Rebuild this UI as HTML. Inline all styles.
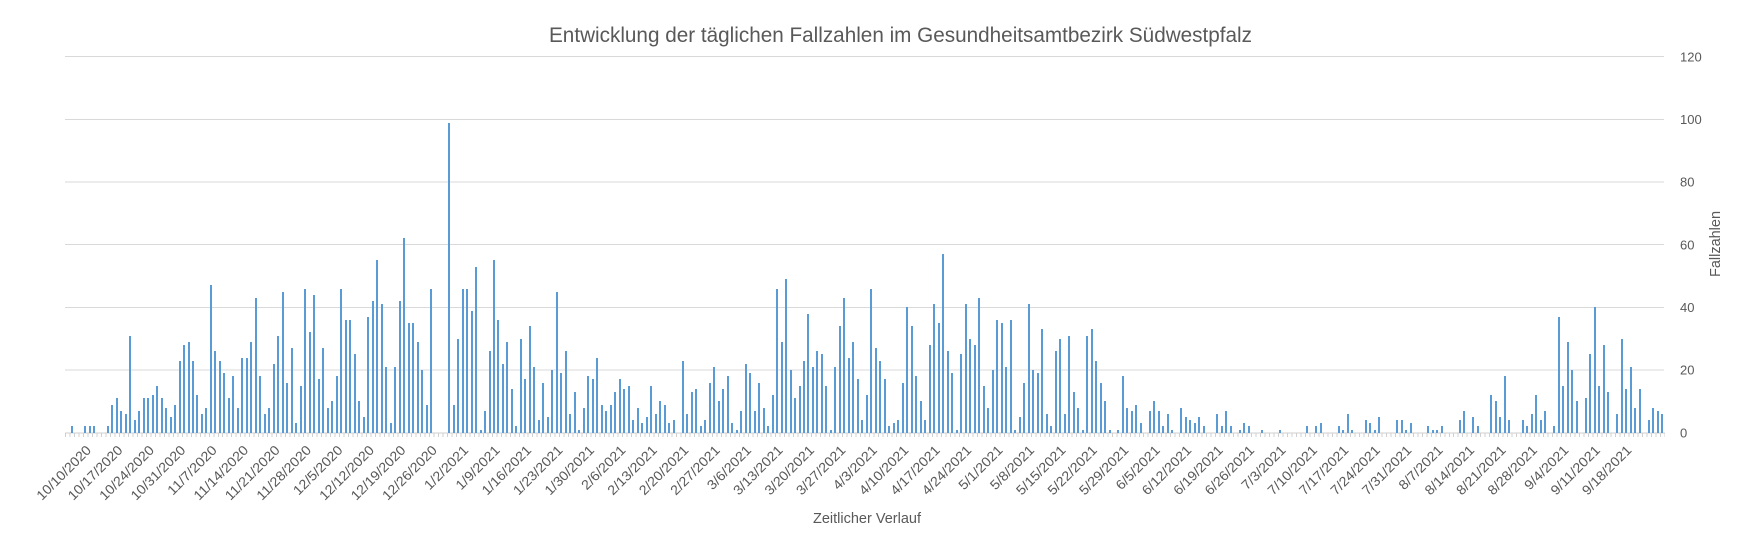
<!DOCTYPE html>
<html>
<head>
<meta charset="utf-8">
<style>
html,body{margin:0;padding:0;background:#fff;}
body{width:1738px;height:544px;overflow:hidden;position:relative;font-family:"Liberation Sans",sans-serif;}
svg{position:absolute;left:0;top:0;}
#b i{position:absolute;bottom:111.3px;width:2px;background:#5B9BD5;left:calc(70.69px + var(--k)*4.4927px);height:calc(var(--v)*3.1333px);display:block;}
#ticks{position:absolute;left:65px;top:433px;width:1600px;height:4px;background:repeating-linear-gradient(90deg,#d0d0d0 0 1px,transparent 1px 4.4927px);}
</style>
</head>
<body>
<svg width="1738" height="544" xmlns="http://www.w3.org/2000/svg">
<g stroke="#d9d9d9" stroke-width="1" shape-rendering="crispEdges">
<line x1="65" x2="1664" y1="56.7" y2="56.7"/>
<line x1="65" x2="1664" y1="119.4" y2="119.4"/>
<line x1="65" x2="1664" y1="182" y2="182"/>
<line x1="65" x2="1664" y1="244.7" y2="244.7"/>
<line x1="65" x2="1664" y1="307.4" y2="307.4"/>
<line x1="65" x2="1664" y1="370" y2="370"/>
<line x1="65" x2="1665" y1="432.8" y2="432.8" stroke="#cfcfcf"/>
</g>
<g fill="#595959" font-family="Liberation Sans, sans-serif">
<text x="549" y="42" font-size="21" textLength="703" lengthAdjust="spacingAndGlyphs">Entwicklung der täglichen Fallzahlen im Gesundheitsamtbezirk Südwestpfalz</text>
<g font-size="13">
<text x="1680" y="61.4">120</text>
<text x="1680" y="124.1">100</text>
<text x="1680" y="186.7">80</text>
<text x="1680" y="249.4">60</text>
<text x="1680" y="312.1">40</text>
<text x="1680" y="374.7">20</text>
<text x="1680" y="437.4">0</text>
</g>
<text transform="translate(1720,244) rotate(-90)" text-anchor="middle" font-size="15" textLength="66" lengthAdjust="spacingAndGlyphs">Fallzahlen</text>
<text x="867" y="523" text-anchor="middle" font-size="15" textLength="108" lengthAdjust="spacingAndGlyphs">Zeitlicher Verlauf</text>
<g font-size="13.5" text-anchor="end" lengthAdjust="spacingAndGlyphs">
<text transform="translate(92.0,451) rotate(-45)" textLength="70.8" lengthAdjust="spacingAndGlyphs">10/10/2020</text>
<text transform="translate(123.4,451) rotate(-45)" textLength="70.8" lengthAdjust="spacingAndGlyphs">10/17/2020</text>
<text transform="translate(154.9,451) rotate(-45)" textLength="70.8" lengthAdjust="spacingAndGlyphs">10/24/2020</text>
<text transform="translate(186.3,451) rotate(-45)" textLength="70.8" lengthAdjust="spacingAndGlyphs">10/31/2020</text>
<text transform="translate(217.7,451) rotate(-45)" textLength="63.4" lengthAdjust="spacingAndGlyphs">11/7/2020</text>
<text transform="translate(249.2,451) rotate(-45)" textLength="70.8" lengthAdjust="spacingAndGlyphs">11/14/2020</text>
<text transform="translate(280.6,451) rotate(-45)" textLength="70.8" lengthAdjust="spacingAndGlyphs">11/21/2020</text>
<text transform="translate(312.0,451) rotate(-45)" textLength="70.8" lengthAdjust="spacingAndGlyphs">11/28/2020</text>
<text transform="translate(343.5,451) rotate(-45)" textLength="63.4" lengthAdjust="spacingAndGlyphs">12/5/2020</text>
<text transform="translate(374.9,451) rotate(-45)" textLength="70.8" lengthAdjust="spacingAndGlyphs">12/12/2020</text>
<text transform="translate(406.4,451) rotate(-45)" textLength="70.8" lengthAdjust="spacingAndGlyphs">12/19/2020</text>
<text transform="translate(437.8,451) rotate(-45)" textLength="70.8" lengthAdjust="spacingAndGlyphs">12/26/2020</text>
<text transform="translate(469.2,451) rotate(-45)" textLength="56" lengthAdjust="spacingAndGlyphs">1/2/2021</text>
<text transform="translate(500.7,451) rotate(-45)" textLength="56" lengthAdjust="spacingAndGlyphs">1/9/2021</text>
<text transform="translate(532.1,451) rotate(-45)" textLength="63.4" lengthAdjust="spacingAndGlyphs">1/16/2021</text>
<text transform="translate(563.5,451) rotate(-45)" textLength="63.4" lengthAdjust="spacingAndGlyphs">1/23/2021</text>
<text transform="translate(595.0,451) rotate(-45)" textLength="63.4" lengthAdjust="spacingAndGlyphs">1/30/2021</text>
<text transform="translate(626.4,451) rotate(-45)" textLength="56" lengthAdjust="spacingAndGlyphs">2/6/2021</text>
<text transform="translate(657.8,451) rotate(-45)" textLength="63.4" lengthAdjust="spacingAndGlyphs">2/13/2021</text>
<text transform="translate(689.3,451) rotate(-45)" textLength="63.4" lengthAdjust="spacingAndGlyphs">2/20/2021</text>
<text transform="translate(720.7,451) rotate(-45)" textLength="63.4" lengthAdjust="spacingAndGlyphs">2/27/2021</text>
<text transform="translate(752.1,451) rotate(-45)" textLength="56" lengthAdjust="spacingAndGlyphs">3/6/2021</text>
<text transform="translate(783.6,451) rotate(-45)" textLength="63.4" lengthAdjust="spacingAndGlyphs">3/13/2021</text>
<text transform="translate(815.0,451) rotate(-45)" textLength="63.4" lengthAdjust="spacingAndGlyphs">3/20/2021</text>
<text transform="translate(846.4,451) rotate(-45)" textLength="63.4" lengthAdjust="spacingAndGlyphs">3/27/2021</text>
<text transform="translate(877.9,451) rotate(-45)" textLength="56" lengthAdjust="spacingAndGlyphs">4/3/2021</text>
<text transform="translate(909.3,451) rotate(-45)" textLength="63.4" lengthAdjust="spacingAndGlyphs">4/10/2021</text>
<text transform="translate(940.7,451) rotate(-45)" textLength="63.4" lengthAdjust="spacingAndGlyphs">4/17/2021</text>
<text transform="translate(972.2,451) rotate(-45)" textLength="63.4" lengthAdjust="spacingAndGlyphs">4/24/2021</text>
<text transform="translate(1003.6,451) rotate(-45)" textLength="56" lengthAdjust="spacingAndGlyphs">5/1/2021</text>
<text transform="translate(1035.1,451) rotate(-45)" textLength="56" lengthAdjust="spacingAndGlyphs">5/8/2021</text>
<text transform="translate(1066.5,451) rotate(-45)" textLength="63.4" lengthAdjust="spacingAndGlyphs">5/15/2021</text>
<text transform="translate(1097.9,451) rotate(-45)" textLength="63.4" lengthAdjust="spacingAndGlyphs">5/22/2021</text>
<text transform="translate(1129.4,451) rotate(-45)" textLength="63.4" lengthAdjust="spacingAndGlyphs">5/29/2021</text>
<text transform="translate(1160.8,451) rotate(-45)" textLength="56" lengthAdjust="spacingAndGlyphs">6/5/2021</text>
<text transform="translate(1192.2,451) rotate(-45)" textLength="63.4" lengthAdjust="spacingAndGlyphs">6/12/2021</text>
<text transform="translate(1223.7,451) rotate(-45)" textLength="63.4" lengthAdjust="spacingAndGlyphs">6/19/2021</text>
<text transform="translate(1255.1,451) rotate(-45)" textLength="63.4" lengthAdjust="spacingAndGlyphs">6/26/2021</text>
<text transform="translate(1286.5,451) rotate(-45)" textLength="56" lengthAdjust="spacingAndGlyphs">7/3/2021</text>
<text transform="translate(1318.0,451) rotate(-45)" textLength="63.4" lengthAdjust="spacingAndGlyphs">7/10/2021</text>
<text transform="translate(1349.4,451) rotate(-45)" textLength="63.4" lengthAdjust="spacingAndGlyphs">7/17/2021</text>
<text transform="translate(1380.8,451) rotate(-45)" textLength="63.4" lengthAdjust="spacingAndGlyphs">7/24/2021</text>
<text transform="translate(1412.3,451) rotate(-45)" textLength="63.4" lengthAdjust="spacingAndGlyphs">7/31/2021</text>
<text transform="translate(1443.7,451) rotate(-45)" textLength="56" lengthAdjust="spacingAndGlyphs">8/7/2021</text>
<text transform="translate(1475.1,451) rotate(-45)" textLength="63.4" lengthAdjust="spacingAndGlyphs">8/14/2021</text>
<text transform="translate(1506.6,451) rotate(-45)" textLength="63.4" lengthAdjust="spacingAndGlyphs">8/21/2021</text>
<text transform="translate(1538.0,451) rotate(-45)" textLength="63.4" lengthAdjust="spacingAndGlyphs">8/28/2021</text>
<text transform="translate(1569.4,451) rotate(-45)" textLength="56" lengthAdjust="spacingAndGlyphs">9/4/2021</text>
<text transform="translate(1600.9,451) rotate(-45)" textLength="63.4" lengthAdjust="spacingAndGlyphs">9/11/2021</text>
<text transform="translate(1632.3,451) rotate(-45)" textLength="63.4" lengthAdjust="spacingAndGlyphs">9/18/2021</text>
</g>
</g>
</svg>
<div id="ticks"></div>
<div id="b">
<i style="--k:0;--v:2"></i><i style="--k:3;--v:2"></i><i style="--k:4;--v:2"></i><i style="--k:5;--v:2"></i><i style="--k:8;--v:2"></i><i style="--k:9;--v:9"></i><i style="--k:10;--v:11"></i><i style="--k:11;--v:7"></i><i style="--k:12;--v:6"></i><i style="--k:13;--v:31"></i><i style="--k:14;--v:4"></i><i style="--k:15;--v:7"></i><i style="--k:16;--v:11"></i><i style="--k:17;--v:11"></i><i style="--k:18;--v:12"></i><i style="--k:19;--v:15"></i><i style="--k:20;--v:11"></i><i style="--k:21;--v:8"></i><i style="--k:22;--v:5"></i><i style="--k:23;--v:9"></i><i style="--k:24;--v:23"></i><i style="--k:25;--v:28"></i><i style="--k:26;--v:29"></i><i style="--k:27;--v:23"></i><i style="--k:28;--v:12"></i><i style="--k:29;--v:6"></i><i style="--k:30;--v:8"></i><i style="--k:31;--v:47"></i><i style="--k:32;--v:26"></i><i style="--k:33;--v:23"></i><i style="--k:34;--v:19"></i><i style="--k:35;--v:11"></i><i style="--k:36;--v:18"></i><i style="--k:37;--v:8"></i><i style="--k:38;--v:24"></i><i style="--k:39;--v:24"></i><i style="--k:40;--v:29"></i><i style="--k:41;--v:43"></i><i style="--k:42;--v:18"></i><i style="--k:43;--v:6"></i><i style="--k:44;--v:8"></i><i style="--k:45;--v:22"></i><i style="--k:46;--v:31"></i><i style="--k:47;--v:45"></i><i style="--k:48;--v:16"></i><i style="--k:49;--v:27"></i><i style="--k:50;--v:3"></i><i style="--k:51;--v:15"></i><i style="--k:52;--v:46"></i><i style="--k:53;--v:32"></i><i style="--k:54;--v:44"></i><i style="--k:55;--v:17"></i><i style="--k:56;--v:27"></i><i style="--k:57;--v:8"></i><i style="--k:58;--v:10"></i><i style="--k:59;--v:18"></i><i style="--k:60;--v:46"></i>
<i style="--k:61;--v:36"></i><i style="--k:62;--v:36"></i><i style="--k:63;--v:25"></i><i style="--k:64;--v:10"></i><i style="--k:65;--v:5"></i><i style="--k:66;--v:37"></i><i style="--k:67;--v:42"></i><i style="--k:68;--v:55"></i><i style="--k:69;--v:41"></i><i style="--k:70;--v:21"></i><i style="--k:71;--v:3"></i><i style="--k:72;--v:21"></i><i style="--k:73;--v:42"></i><i style="--k:74;--v:62"></i><i style="--k:75;--v:35"></i><i style="--k:76;--v:35"></i><i style="--k:77;--v:29"></i><i style="--k:78;--v:20"></i><i style="--k:79;--v:9"></i><i style="--k:80;--v:46"></i><i style="--k:84;--v:99"></i><i style="--k:85;--v:9"></i><i style="--k:86;--v:30"></i><i style="--k:87;--v:46"></i><i style="--k:88;--v:46"></i><i style="--k:89;--v:39"></i><i style="--k:90;--v:53"></i><i style="--k:91;--v:1"></i><i style="--k:92;--v:7"></i><i style="--k:93;--v:26"></i><i style="--k:94;--v:55"></i><i style="--k:95;--v:36"></i><i style="--k:96;--v:22"></i><i style="--k:97;--v:29"></i><i style="--k:98;--v:14"></i><i style="--k:99;--v:2"></i><i style="--k:100;--v:30"></i><i style="--k:101;--v:17"></i><i style="--k:102;--v:34"></i><i style="--k:103;--v:21"></i><i style="--k:104;--v:4"></i><i style="--k:105;--v:16"></i><i style="--k:106;--v:5"></i><i style="--k:107;--v:20"></i><i style="--k:108;--v:45"></i><i style="--k:109;--v:19"></i><i style="--k:110;--v:26"></i><i style="--k:111;--v:6"></i><i style="--k:112;--v:13"></i><i style="--k:113;--v:1"></i><i style="--k:114;--v:8"></i><i style="--k:115;--v:18"></i><i style="--k:116;--v:17"></i><i style="--k:117;--v:24"></i><i style="--k:118;--v:9"></i><i style="--k:119;--v:7"></i><i style="--k:120;--v:9"></i><i style="--k:121;--v:13"></i><i style="--k:122;--v:17"></i><i style="--k:123;--v:14"></i><i style="--k:124;--v:15"></i>
<i style="--k:125;--v:4"></i><i style="--k:126;--v:8"></i><i style="--k:127;--v:3"></i><i style="--k:128;--v:5"></i><i style="--k:129;--v:15"></i><i style="--k:130;--v:6"></i><i style="--k:131;--v:10"></i><i style="--k:132;--v:9"></i><i style="--k:133;--v:3"></i><i style="--k:134;--v:4"></i><i style="--k:136;--v:23"></i><i style="--k:137;--v:6"></i><i style="--k:138;--v:13"></i><i style="--k:139;--v:14"></i><i style="--k:140;--v:2"></i><i style="--k:141;--v:4"></i><i style="--k:142;--v:16"></i><i style="--k:143;--v:21"></i><i style="--k:144;--v:10"></i><i style="--k:145;--v:14"></i><i style="--k:146;--v:18"></i><i style="--k:147;--v:3"></i><i style="--k:148;--v:1"></i><i style="--k:149;--v:7"></i><i style="--k:150;--v:22"></i><i style="--k:151;--v:19"></i><i style="--k:152;--v:7"></i><i style="--k:153;--v:16"></i><i style="--k:154;--v:8"></i><i style="--k:155;--v:2"></i><i style="--k:156;--v:12"></i><i style="--k:157;--v:46"></i><i style="--k:158;--v:29"></i><i style="--k:159;--v:49"></i><i style="--k:160;--v:20"></i><i style="--k:161;--v:11"></i><i style="--k:162;--v:15"></i><i style="--k:163;--v:23"></i><i style="--k:164;--v:38"></i><i style="--k:165;--v:21"></i><i style="--k:166;--v:26"></i><i style="--k:167;--v:25"></i><i style="--k:168;--v:15"></i><i style="--k:169;--v:1"></i><i style="--k:170;--v:21"></i><i style="--k:171;--v:34"></i><i style="--k:172;--v:43"></i><i style="--k:173;--v:24"></i><i style="--k:174;--v:29"></i><i style="--k:175;--v:17"></i><i style="--k:176;--v:4"></i><i style="--k:177;--v:12"></i><i style="--k:178;--v:46"></i><i style="--k:179;--v:27"></i><i style="--k:180;--v:23"></i><i style="--k:181;--v:17"></i><i style="--k:182;--v:2"></i><i style="--k:183;--v:3"></i><i style="--k:184;--v:4"></i><i style="--k:185;--v:16"></i><i style="--k:186;--v:40"></i><i style="--k:187;--v:34"></i>
<i style="--k:188;--v:18"></i><i style="--k:189;--v:10"></i><i style="--k:190;--v:4"></i><i style="--k:191;--v:28"></i><i style="--k:192;--v:41"></i><i style="--k:193;--v:35"></i><i style="--k:194;--v:57"></i><i style="--k:195;--v:26"></i><i style="--k:196;--v:19"></i><i style="--k:197;--v:1"></i><i style="--k:198;--v:25"></i><i style="--k:199;--v:41"></i><i style="--k:200;--v:30"></i><i style="--k:201;--v:28"></i><i style="--k:202;--v:43"></i><i style="--k:203;--v:15"></i><i style="--k:204;--v:8"></i><i style="--k:205;--v:20"></i><i style="--k:206;--v:36"></i><i style="--k:207;--v:35"></i><i style="--k:208;--v:21"></i><i style="--k:209;--v:36"></i><i style="--k:210;--v:1"></i><i style="--k:211;--v:5"></i><i style="--k:212;--v:16"></i><i style="--k:213;--v:41"></i><i style="--k:214;--v:20"></i><i style="--k:215;--v:19"></i><i style="--k:216;--v:33"></i><i style="--k:217;--v:6"></i><i style="--k:218;--v:2"></i><i style="--k:219;--v:26"></i><i style="--k:220;--v:30"></i><i style="--k:221;--v:6"></i><i style="--k:222;--v:31"></i><i style="--k:223;--v:13"></i><i style="--k:224;--v:8"></i><i style="--k:225;--v:1"></i><i style="--k:226;--v:31"></i><i style="--k:227;--v:33"></i><i style="--k:228;--v:23"></i><i style="--k:229;--v:16"></i><i style="--k:230;--v:10"></i><i style="--k:231;--v:1"></i><i style="--k:233;--v:1"></i><i style="--k:234;--v:18"></i><i style="--k:235;--v:8"></i><i style="--k:236;--v:7"></i><i style="--k:237;--v:9"></i><i style="--k:238;--v:3"></i><i style="--k:240;--v:7"></i><i style="--k:241;--v:10"></i><i style="--k:242;--v:7"></i><i style="--k:243;--v:2"></i><i style="--k:244;--v:6"></i><i style="--k:245;--v:1"></i><i style="--k:247;--v:8"></i><i style="--k:248;--v:5"></i><i style="--k:249;--v:4"></i><i style="--k:250;--v:3"></i><i style="--k:251;--v:5"></i>
<i style="--k:252;--v:2"></i><i style="--k:255;--v:6"></i><i style="--k:256;--v:2"></i><i style="--k:257;--v:7"></i><i style="--k:258;--v:2"></i><i style="--k:260;--v:1"></i><i style="--k:261;--v:3"></i><i style="--k:262;--v:2"></i><i style="--k:265;--v:1"></i><i style="--k:269;--v:1"></i><i style="--k:275;--v:2"></i><i style="--k:277;--v:2"></i><i style="--k:278;--v:3"></i><i style="--k:282;--v:2"></i><i style="--k:283;--v:1"></i><i style="--k:284;--v:6"></i><i style="--k:285;--v:1"></i><i style="--k:288;--v:4"></i><i style="--k:289;--v:3"></i><i style="--k:290;--v:1"></i><i style="--k:291;--v:5"></i><i style="--k:295;--v:4"></i><i style="--k:296;--v:4"></i><i style="--k:297;--v:1"></i><i style="--k:298;--v:3"></i><i style="--k:302;--v:2"></i><i style="--k:303;--v:1"></i><i style="--k:304;--v:1"></i><i style="--k:305;--v:2"></i><i style="--k:309;--v:4"></i><i style="--k:310;--v:7"></i><i style="--k:312;--v:5"></i><i style="--k:313;--v:2"></i><i style="--k:316;--v:12"></i><i style="--k:317;--v:10"></i><i style="--k:318;--v:5"></i><i style="--k:319;--v:18"></i><i style="--k:320;--v:4"></i><i style="--k:323;--v:4"></i><i style="--k:324;--v:2"></i><i style="--k:325;--v:6"></i><i style="--k:326;--v:12"></i><i style="--k:327;--v:4"></i><i style="--k:328;--v:7"></i><i style="--k:330;--v:2"></i><i style="--k:331;--v:37"></i><i style="--k:332;--v:15"></i><i style="--k:333;--v:29"></i><i style="--k:334;--v:20"></i><i style="--k:335;--v:10"></i><i style="--k:337;--v:11"></i><i style="--k:338;--v:25"></i><i style="--k:339;--v:40"></i><i style="--k:340;--v:15"></i><i style="--k:341;--v:28"></i><i style="--k:342;--v:13"></i><i style="--k:344;--v:6"></i><i style="--k:345;--v:30"></i><i style="--k:346;--v:14"></i><i style="--k:347;--v:21"></i><i style="--k:348;--v:8"></i><i style="--k:349;--v:14"></i><i style="--k:351;--v:4"></i><i style="--k:352;--v:8"></i><i style="--k:353;--v:7"></i><i style="--k:354;--v:6"></i>
</div>
</body>
</html>
